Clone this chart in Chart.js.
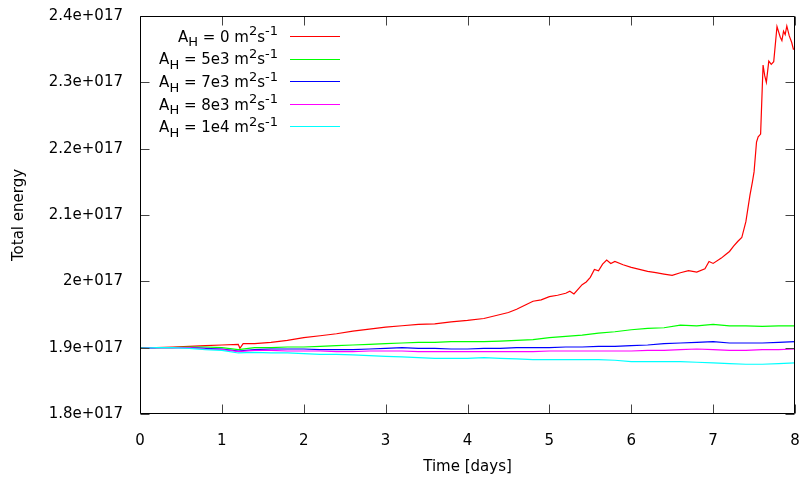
<!DOCTYPE html>
<html>
<head>
<meta charset="utf-8">
<script src="https://cdn.jsdelivr.net/npm/chart.js@4"></script>
<style>
  html, body { margin: 0; padding: 0; background: #fff; }
</style>
</head>
<body>
<canvas id="chart" width="801" height="483"></canvas>
<script>
// values, energy in units of 1e17
const days = [0, 0.2, 0.4, 0.6, 0.8, 1, 1.2, 1.4, 1.6, 1.8, 2, 2.2, 2.4, 2.6, 2.8, 3, 3.2, 3.4, 3.6, 3.8, 4,
  4.2, 4.4, 4.6, 4.8, 5, 5.2, 5.4, 5.6, 5.8, 6, 6.2, 6.4, 6.6, 6.8, 7, 7.2, 7.4, 7.6, 7.8, 8];

const redDays = [0, 0.2, 0.4, 0.6, 0.8, 1, 1.2, 1.22, 1.26, 1.4, 1.6, 1.8, 2, 2.2, 2.4, 2.6, 2.8, 3, 3.2, 3.4, 3.6, 3.8, 4,
  4.2, 4.4, 4.5, 4.6, 4.7, 4.8, 4.9, 5, 5.1, 5.2, 5.25, 5.3, 5.4, 5.45, 5.5, 5.55, 5.6, 5.65, 5.7, 5.75, 5.8, 5.9,
  6, 6.1, 6.2, 6.3, 6.4, 6.5, 6.6, 6.7, 6.8, 6.9, 6.95, 7, 7.1, 7.15, 7.2, 7.25, 7.3, 7.35, 7.4, 7.45, 7.48, 7.5,
  7.53, 7.55, 7.58, 7.61, 7.63, 7.65, 7.68, 7.71, 7.74, 7.78, 7.82, 7.84, 7.86, 7.88, 7.9, 7.93, 7.96, 7.98, 8];
const red = [1.899, 1.900, 1.901, 1.902, 1.903, 1.904, 1.905, 1.899, 1.906, 1.906, 1.908, 1.911, 1.915, 1.918, 1.921,
  1.925, 1.928, 1.931, 1.933, 1.935, 1.936, 1.939, 1.941, 1.944, 1.950, 1.953, 1.958, 1.964, 1.970, 1.972, 1.977,
  1.979, 1.982, 1.985, 1.981, 1.995, 1.999, 2.006, 2.018, 2.016, 2.026, 2.032, 2.027, 2.030, 2.025, 2.021, 2.018,
  2.015, 2.013, 2.011, 2.009, 2.013, 2.016, 2.014, 2.019, 2.030, 2.027, 2.035, 2.040, 2.045, 2.053, 2.060, 2.066,
  2.090, 2.130, 2.150, 2.165, 2.210, 2.218, 2.222, 2.326, 2.310, 2.300, 2.332, 2.327, 2.331, 2.384, 2.368, 2.363,
  2.377, 2.372, 2.385, 2.370, 2.360, 2.350, 2.350];

const green = [1.900, 1.900, 1.900, 1.901, 1.901, 1.900, 1.897, 1.900, 1.900, 1.901, 1.901, 1.902, 1.903, 1.904,
  1.905, 1.906, 1.907, 1.908, 1.908, 1.909, 1.909, 1.909, 1.910, 1.911, 1.912, 1.915, 1.917, 1.919, 1.922, 1.924,
  1.927, 1.929, 1.930, 1.934, 1.933, 1.935, 1.933, 1.933, 1.932, 1.933, 1.933];
const blue = [1.899, 1.900, 1.900, 1.900, 1.899, 1.898, 1.895, 1.897, 1.898, 1.898, 1.898, 1.897, 1.897, 1.897,
  1.898, 1.899, 1.900, 1.899, 1.899, 1.898, 1.898, 1.899, 1.899, 1.900, 1.900, 1.900, 1.901, 1.901, 1.902, 1.902,
  1.903, 1.904, 1.906, 1.907, 1.908, 1.909, 1.907, 1.907, 1.907, 1.908, 1.909];
const magenta = [1.899, 1.900, 1.900, 1.900, 1.898, 1.897, 1.894, 1.896, 1.896, 1.895, 1.895, 1.895, 1.894, 1.894,
  1.895, 1.895, 1.895, 1.894, 1.894, 1.894, 1.894, 1.894, 1.894, 1.894, 1.894, 1.895, 1.895, 1.895, 1.895, 1.895,
  1.895, 1.896, 1.896, 1.897, 1.898, 1.897, 1.896, 1.896, 1.897, 1.897, 1.898];
const cyan = [1.899, 1.900, 1.900, 1.899, 1.897, 1.896, 1.892, 1.893, 1.892, 1.892, 1.891, 1.890, 1.890, 1.889,
  1.888, 1.887, 1.886, 1.885, 1.884, 1.884, 1.884, 1.885, 1.884, 1.883, 1.882, 1.882, 1.882, 1.882, 1.882, 1.881,
  1.879, 1.879, 1.879, 1.879, 1.878, 1.877, 1.876, 1.875, 1.875, 1.876, 1.877];

const coeffs = ['0', '5e3', '7e3', '8e3', '1e4'];
const colors = ['#ff0000', '#00ff00', '#0000ff', '#ff00ff', '#00ffff'];
const xTicks = [0, 1, 2, 3, 4, 5, 6, 7, 8];
const yTicks = [1.8, 1.9, 2.0, 2.1, 2.2, 2.3, 2.4];

const FONT = 'DejaVu Sans';
const E17 = 1e17;

function pts(xs, ys) {
  return xs.map((t, i) => ({ x: t, y: ys[i] * E17 }));
}

const series = [pts(redDays, red), pts(days, green), pts(days, blue), pts(days, magenta), pts(days, cyan)];

// border, inward ticks on all four sides and the gnuplot style key
const frame = {
  id: 'frame',
  afterDatasetsDraw(chart) {
    const { ctx, chartArea: a, scales: { x, y } } = chart;
    const L = Math.round(a.left) + 0.5, R = Math.round(a.right) - 0.5;
    const T = Math.round(a.top) + 0.5, B = Math.round(a.bottom) - 0.5;
    ctx.save();
    ctx.lineWidth = 1;
    ctx.strokeStyle = '#444';
    ctx.beginPath();
    xTicks.forEach(v => {
      const px = Math.round(x.getPixelForValue(v)) + 0.5;
      ctx.moveTo(px, B); ctx.lineTo(px, B - 9);
      ctx.moveTo(px, T); ctx.lineTo(px, T + 9);
    });
    yTicks.forEach(v => {
      const py = Math.round(y.getPixelForValue(v * E17)) + 0.5;
      ctx.moveTo(L, py); ctx.lineTo(L + 9, py);
      ctx.moveTo(R, py); ctx.lineTo(R - 9, py);
    });
    ctx.stroke();
    ctx.strokeStyle = '#000';
    ctx.beginPath();
    ctx.rect(L, T, R - L, B - T);
    ctx.stroke();

    // key
    ctx.textBaseline = 'middle';
    ctx.textAlign = 'left';
    coeffs.forEach((c, i) => {
      const cy = a.top + 20 + i * 22.6;
      const parts = [
        { t: 'A', f: 15, dy: 0 },
        { t: 'H', f: 13, dy: 5 },
        { t: ' = ' + c + ' m', f: 15, dy: 0 },
        { t: '2', f: 13, dy: -6 },
        { t: 's', f: 15, dy: 0 },
        { t: '-1', f: 13, dy: -6 }
      ];
      let w = 0;
      parts.forEach(p => { ctx.font = p.f + 'px "' + FONT + '"'; p.w = ctx.measureText(p.t).width; w += p.w; });
      let px = a.left + 138 - w;
      ctx.fillStyle = '#000';
      parts.forEach(p => {
        ctx.font = p.f + 'px "' + FONT + '"';
        ctx.fillText(p.t, px, cy + 2 + p.dy);
        px += p.w;
      });
      ctx.strokeStyle = colors[i];
      ctx.beginPath();
      ctx.moveTo(a.left + 150, Math.round(cy) + 0.5);
      ctx.lineTo(a.left + 200, Math.round(cy) + 0.5);
      ctx.stroke();
    });
    ctx.restore();
  }
};

new Chart(document.getElementById('chart'), {
  type: 'line',
  data: {
    datasets: series.map((d, i) => ({
      label: 'A_H = ' + coeffs[i] + ' m^2s^-1',
      data: d,
      borderColor: colors[i],
      borderWidth: 1.2,
      pointRadius: 0,
      tension: 0,
      order: 5 - i
    }))
  },
  options: {
    responsive: false,
    animation: false,
    layout: { padding: { left: 0, right: 6, top: 16, bottom: 0 } },
    plugins: { legend: { display: false }, tooltip: { enabled: false } },
    scales: {
      x: {
        type: 'linear',
        min: 0, max: 8,
        afterFit: s => { s.height = 69; s.paddingLeft = 0; s.paddingRight = 0; },
        afterBuildTicks: s => { s.ticks = xTicks.map(v => ({ value: v })); },
        grid: { display: false, drawTicks: false },
        border: { display: false },
        ticks: { color: '#000', font: { family: FONT, size: 15 }, padding: 18, maxRotation: 0 },
        title: { display: true, text: 'Time [days]', color: '#000', font: { family: FONT, size: 15 }, padding: { top: 4, bottom: 7 } }
      },
      y: {
        min: 1.8 * E17, max: 2.4 * E17,
        afterFit: s => { s.width = 140; s.paddingTop = 0; s.paddingBottom = 0; },
        afterBuildTicks: s => { s.ticks = yTicks.map(v => ({ value: v * E17 })); },
        grid: { display: false, drawTicks: false },
        border: { display: false },
        ticks: {
          color: '#000', font: { family: FONT, size: 15 }, padding: 17,
          callback: v => (Math.round(v / 1e16) / 10) + 'e+017'
        },
        title: { display: true, text: 'Total energy', color: '#000', font: { family: FONT, size: 15 }, padding: { top: 10, bottom: 0 } }
      }
    }
  },
  plugins: [frame]
});
</script>
</body>
</html>
